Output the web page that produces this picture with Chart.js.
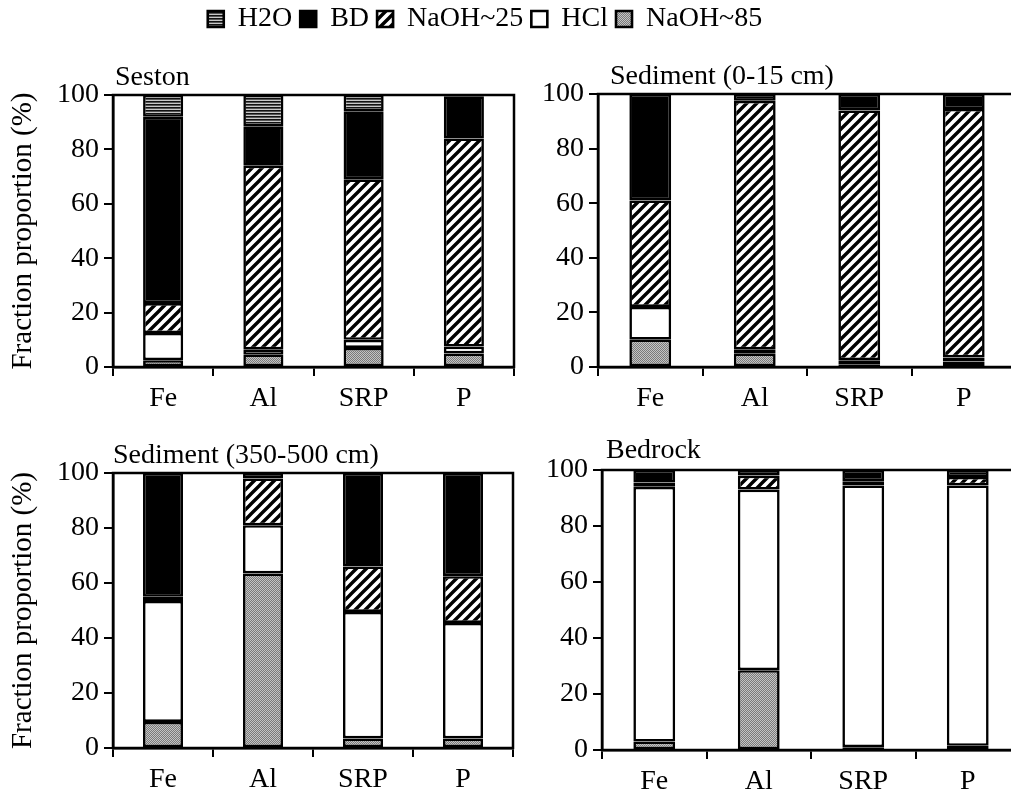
<!DOCTYPE html>
<html>
<head>
<meta charset="utf-8">
<script src="https://cdn.jsdelivr.net/npm/chart.js@4"></script>
<style>
  html, body { margin: 0; padding: 0; background: #fff; overflow: hidden; width: 1011px; height: 799px; }
  canvas { position: absolute; }
</style>
</head>
<body>
<canvas id="legend" width="970" height="120" style="left:0px;top:-3px"></canvas>
<canvas id="seston" width="530" height="370" style="left:0px;top:50px"></canvas>
<canvas id="sed15" width="530" height="370" style="left:500px;top:50px"></canvas>
<canvas id="sed500" width="530" height="370" style="left:0px;top:425px"></canvas>
<canvas id="bedrock" width="530" height="370" style="left:500px;top:425px"></canvas>
<script>
'use strict';

// data (%), stacked bottom -> top: NaOH~85, HCl, NaOH~25, BD, H2O
const categories = ['Fe', 'Al', 'SRP', 'P'];
const seriesNames = ['NaOH~85', 'HCl', 'NaOH~25', 'BD', 'H2O'];
const yTicks = [0, 20, 40, 60, 80, 100];

const sestonNaOH85 = [2.5, 4.5, 7, 5];
const sestonHCl    = [10, 2, 3, 2.5];
const sestonNaOH25 = [11, 67.5, 59, 76.5];
const sestonBD     = [68.5, 14.5, 25, 15.5];
const sestonH2O    = [8, 11.5, 6, 0.5];

const sed15NaOH85 = [10, 5, 1, 2];
const sed15HCl    = [12, 1.5, 1.5, 1.5];
const sed15NaOH25 = [39, 91, 91.5, 91];
const sed15BD     = [39, 2.5, 6, 5.5];
const sed15H2O    = [0, 0, 0, 0];

const sed500NaOH85 = [9.5, 63.5, 3.5, 3.5];
const sed500HCl    = [44, 17.5, 46, 42];
const sed500NaOH25 = [1.5, 17, 16.5, 17];
const sed500BD     = [45, 2, 34, 37.5];
const sed500H2O    = [0, 0, 0, 0];

const bedNaOH85 = [3, 28.5, 1, 1.5];
const bedHCl    = [91, 64.5, 93.5, 93];
const bedNaOH25 = [1.5, 5, 1.5, 3];
const bedBD     = [4.5, 2, 4, 2.5];
const bedH2O    = [0, 0, 0, 0];

const FONT = '"Liberation Serif", "Times New Roman", serif';

// fill patterns
function hatchPattern() {
  const n = 10;
  const c = document.createElement('canvas');
  c.width = n; c.height = n;
  const x = c.getContext('2d');
  x.fillStyle = '#fff';
  x.fillRect(0, 0, n, n);
  x.strokeStyle = '#000';
  x.lineWidth = 3.4;
  x.beginPath();
  x.moveTo(-2, n + 2); x.lineTo(n + 2, -2);
  x.moveTo(-n / 2 - 2, n / 2 + 2); x.lineTo(n / 2 + 2, -n / 2 - 2);
  x.moveTo(n / 2 - 2, n * 1.5 + 2); x.lineTo(n * 1.5 + 2, n / 2 - 2);
  x.stroke();
  return x.createPattern(c, 'repeat');
}

function stripePattern() {
  const c = document.createElement('canvas');
  c.width = 4; c.height = 3;
  const x = c.getContext('2d');
  x.fillStyle = '#111'; x.fillRect(0, 0, 4, 1);
  x.fillStyle = '#555'; x.fillRect(0, 1, 4, 1);
  x.fillStyle = '#c8c8c8'; x.fillRect(0, 2, 4, 1);
  return x.createPattern(c, 'repeat');
}

function stipplePattern() {
  const c = document.createElement('canvas');
  c.width = 2; c.height = 2;
  const x = c.getContext('2d');
  x.fillStyle = '#c4c4c4'; x.fillRect(0, 0, 2, 2);
  x.fillStyle = '#7a7a7a'; x.fillRect(0, 0, 1, 1); x.fillRect(1, 1, 1, 1);
  return x.createPattern(c, 'repeat');
}

const fills = [stipplePattern(), '#ffffff', hatchPattern(), '#000000', stripePattern()];

function makeDatasets(cols) {
  return cols.map((vals, i) => ({
    label: seriesNames[i],
    data: vals,
    backgroundColor: fills[i],
    borderColor: '#000',
    borderWidth: 2.6,
    borderSkipped: false,
    barPercentage: 0.4,
    categoryPercentage: 1.0
  }));
}

// title above the plot + box around the plot area
const panelFrame = {
  id: 'panelFrame',
  afterDraw(chart, args, opts) {
    const { ctx, chartArea } = chart;
    ctx.save();
    ctx.font = '28px ' + FONT;
    ctx.fillStyle = '#000';
    ctx.textBaseline = 'alphabetic';
    ctx.fillText(opts.text, chartArea.left + opts.dx, chartArea.top - opts.dy);
    ctx.lineWidth = 2.5;
    ctx.strokeStyle = '#000';
    ctx.strokeRect(chartArea.left, chartArea.top, chartArea.right - chartArea.left, chartArea.bottom - chartArea.top);
    ctx.restore();
  }
};

function makePanel(id, cfg, cols) {
  const ctx = document.getElementById(id);
  return new Chart(ctx, {
    type: 'bar',
    data: {
      labels: categories,
      datasets: makeDatasets(cols)
    },
    plugins: [panelFrame],
    options: {
      responsive: false,
      animation: false,
      layout: { padding: { top: cfg.padTop, right: cfg.padRight, left: 0, bottom: 0 } },
      plugins: {
        legend: { display: false },
        tooltip: { enabled: false },
        panelFrame: { text: cfg.title, dx: cfg.dx, dy: cfg.dy }
      },
      scales: {
        x: {
          stacked: true,
          afterFit: s => { s.height = cfg.xHeight; },
          grid: { offset: true, drawOnChartArea: false, drawTicks: true, tickLength: 9, color: '#000', lineWidth: 2 },
          border: { display: true, color: '#000', width: 2.5 },
          ticks: { color: '#000', padding: 6, font: { family: FONT, size: 28 } }
        },
        y: {
          stacked: true,
          min: 0,
          max: 100,
          afterFit: s => { s.width = cfg.yWidth; },
          grid: { drawOnChartArea: false, drawTicks: true, tickLength: 9, color: '#000', lineWidth: 2 },
          border: { display: true, color: '#000', width: 2.5 },
          ticks: {
            stepSize: 10,
            color: '#000',
            padding: 5,
            font: { family: FONT, size: 28 },
            callback: v => yTicks.includes(v) ? v : ''
          },
          title: {
            display: cfg.yTitle,
            text: 'Fraction proportion (%)',
            color: '#000',
            padding: { top: 6, bottom: 0 },
            font: { family: FONT, size: 29 }
          }
        }
      }
    }
  });
}

function main() {
  // shared legend (its canvas sits behind the panels)
  new Chart(document.getElementById('legend'), {
    type: 'bar',
    data: { labels: [], datasets: makeDatasets([[], [], [], [], []]) },
    options: {
      responsive: false,
      animation: false,
      layout: { padding: 0 },
      scales: { x: { display: false }, y: { display: false } },
      plugins: {
        tooltip: { enabled: false },
        legend: {
          display: true,
          reverse: true,
          labels: {
            color: '#000',
            boxWidth: 16,
            boxHeight: 16,
            padding: 8,
            font: { family: FONT, size: 28 }
          }
        }
      }
    }
  });

  makePanel('seston', { title: 'Seston', dx: 2, dy: 10, padTop: 45, padRight: 16, xHeight: 53, yWidth: 113, yTitle: true },
    [sestonNaOH85, sestonHCl, sestonNaOH25, sestonBD, sestonH2O]);
  makePanel('sed15', { title: 'Sediment (0-15 cm)', dx: 12, dy: 10, padTop: 44, padRight: 14, xHeight: 53, yWidth: 98, yTitle: false },
    [sed15NaOH85, sed15HCl, sed15NaOH25, sed15BD, sed15H2O]);
  makePanel('sed500', { title: 'Sediment (350-500 cm)', dx: 0, dy: 10, padTop: 48, padRight: 17, xHeight: 47, yWidth: 113, yTitle: true },
    [sed500NaOH85, sed500HCl, sed500NaOH25, sed500BD, sed500H2O]);
  makePanel('bedrock', { title: 'Bedrock', dx: 4, dy: 12, padTop: 45, padRight: 10, xHeight: 45, yWidth: 102, yTitle: false },
    [bedNaOH85, bedHCl, bedNaOH25, bedBD, bedH2O]);
}

main();
</script>
</body>
</html>
